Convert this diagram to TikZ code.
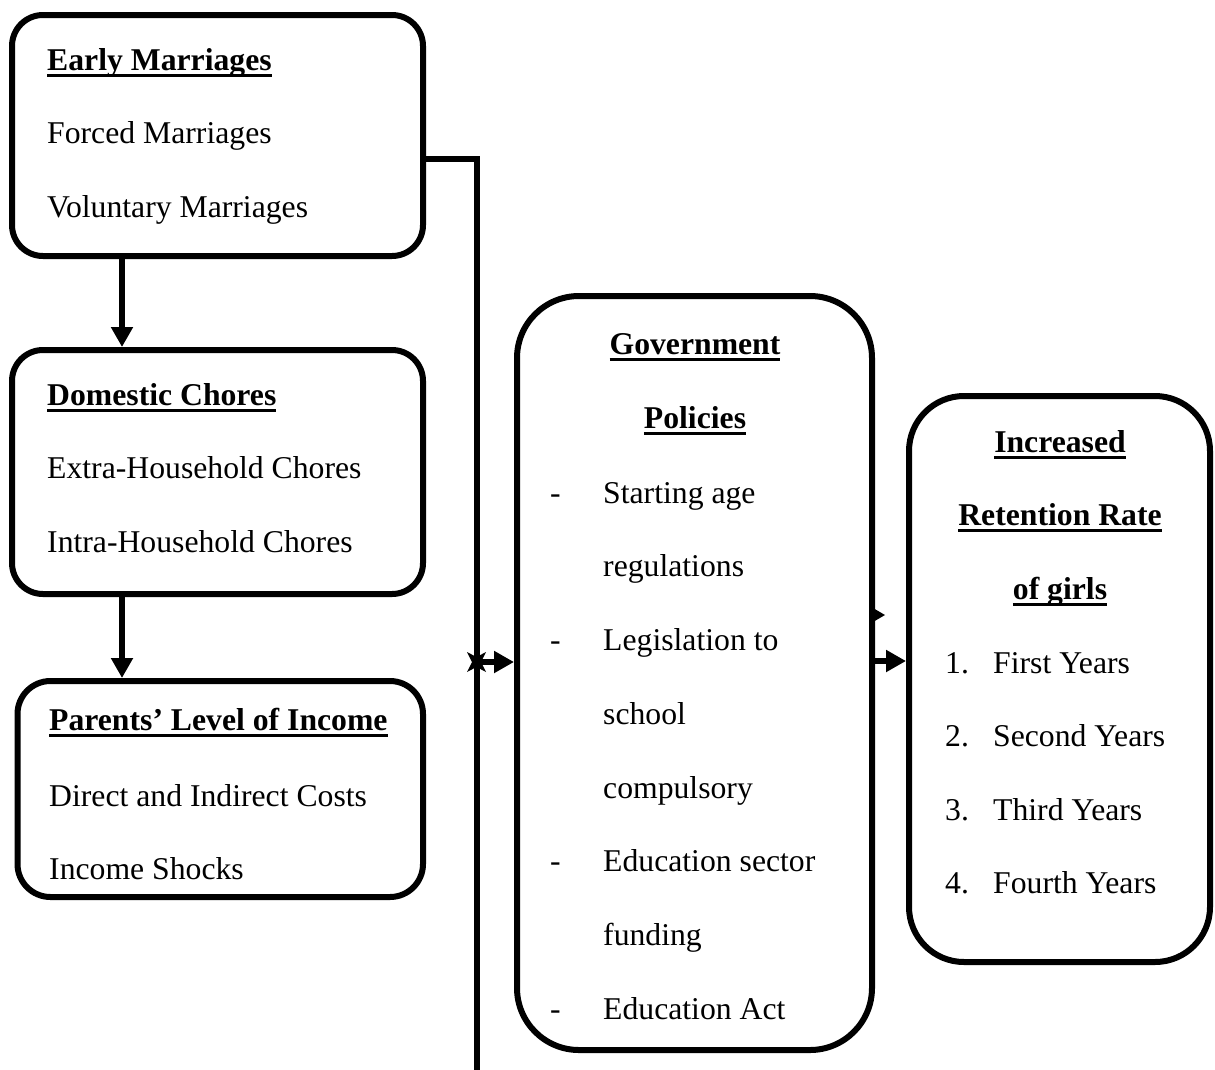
\documentclass[tikz,border=0pt]{standalone}
\usepackage{fontspec}
\setmainfont{Liberation Serif}
\usetikzlibrary{arrows.meta}
\newcommand\ulx[1]{\setbox0\hbox{#1}\rlap{\rule[-7pt]{\wd0}{3pt}}\box0}
\begin{document}
\begin{tikzpicture}[x=1pt,y=-1pt,
  font=\fontsize{31.7}{38}\selectfont,
  box/.style={draw, line width=6pt, inner sep=0pt},
  txt/.style={anchor=base west, inner sep=0pt},
  ctxt/.style={anchor=base, inner sep=0pt},
  conn/.style={line width=6pt},
  arr/.style={line width=6pt, -{Triangle[length=20pt,width=21pt]}}]
\useasboundingbox (0,0) rectangle (1215,1069);

% boxes
\node[box, rounded corners=31pt, minimum width=411pt, minimum height=241pt] (b1) at (217.5,135.5) {};
\node[box, rounded corners=31pt, minimum width=411pt, minimum height=244pt] (b2) at (217.5,472) {};
\node[box, rounded corners=33pt, minimum width=405.5pt, minimum height=216pt] (b3) at (220.25,789) {};
\node[box, rounded corners=62pt, minimum width=355pt, minimum height=754pt] (b4) at (694.5,673) {};
\node[box, rounded corners=55pt, minimum width=301pt, minimum height=566pt] (b5) at (1059.5,679) {};

% box 1 text
\node[txt] (t11) at (47,70) {\bfseries\ulx{Early Marriages}};
\node[txt] (t12) at (47,143) {Forced Marriages};
\node[txt] (t13) at (47,217) {Voluntary Marriages};

% box 2 text
\node[txt] (t21) at (47,405) {\bfseries\ulx{Domestic Chores}};
\node[txt] (t22) at (47,478) {Extra-Household Chores};
\node[txt] (t23) at (47,552) {Intra-Household Chores};

% box 3 text
\node[txt] (t31) at (49,730) {\bfseries\ulx{Parents’ Level of Income}};
\node[txt] (t32) at (49,806) {Direct and Indirect Costs};
\node[txt] (t33) at (49,879) {Income Shocks};

% box 4 text
\node[ctxt] (t41) at (695,354) {\bfseries\ulx{Government}};
\node[ctxt] (t42) at (695,428) {\bfseries\ulx{Policies}};
\node[txt] (d1) at (550,503) {-};
\node[txt] (t43) at (603,503) {Starting age};
\node[txt] (t44) at (603,576) {regulations};
\node[txt] (d2) at (550,650) {-};
\node[txt] (t45) at (603,650) {Legislation to};
\node[txt] (t46) at (603,724) {school};
\node[txt] (t47) at (603,798) {compulsory};
\node[txt] (d3) at (550,871) {-};
\node[txt] (t48) at (603,871) {Education sector};
\node[txt] (t49) at (603,945) {funding};
\node[txt] (d4) at (550,1019) {-};
\node[txt] (t410) at (603,1019) {Education Act};

% box 5 text
\node[ctxt] (t51) at (1060,452) {\bfseries\ulx{Increased}};
\node[ctxt] (t52) at (1060,525) {\bfseries\ulx{Retention Rate}};
\node[ctxt] (t53) at (1060,599) {\bfseries\ulx{of girls}};
\node[txt] (n1) at (945,673) {1.};
\node[txt] (t54) at (993,673) {First Years};
\node[txt] (n2) at (945,746) {2.};
\node[txt] (t55) at (993,746) {Second Years};
\node[txt] (n3) at (945,820) {3.};
\node[txt] (t56) at (993,820) {Third Years};
\node[txt] (n4) at (945,893) {4.};
\node[txt] (t57) at (993,893) {Fourth Years};

% connectors
\coordinate (ax) at (122,0);
\draw[arr] (ax |- b1.south) -- (ax |- b2.north);
\draw[arr] (ax |- b2.south) -- (ax |- b3.north);

\coordinate (j) at (476.5,158.5);
\coordinate (bot) at (476.5,1072);
\coordinate (m) at (476.5,662);
\coordinate (m2) at (0,661);
\draw[conn] (b1.east |- j) -- (j) -- (bot);
\draw[arr] (m) -- (m -| b4.west);
\fill (467,652) -- (476.5,657) -- (486,652) -- (481,662) -- (486,672) -- (476.5,667) -- (467,672) -- (472,662) -- cycle;
\draw[arr] (b4.east |- m2) -- (b5.west |- m2);
\fill (873,608) -- (885,615) -- (873,622) -- cycle;
\end{tikzpicture}
\end{document}
